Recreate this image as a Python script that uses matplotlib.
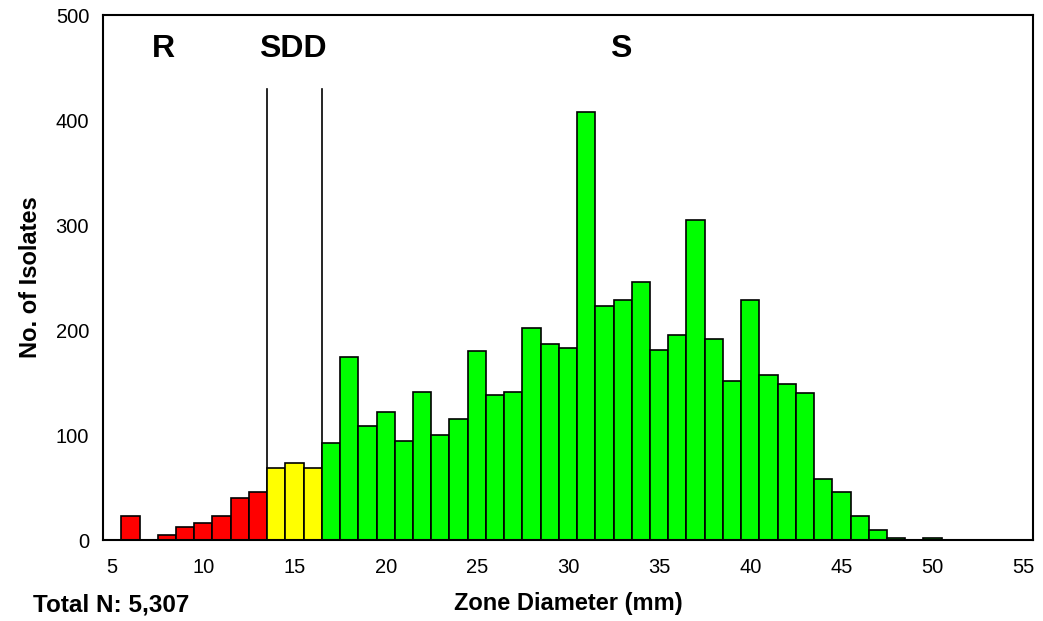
import matplotlib.pyplot as plt
import numpy as np

plt.rcParams['font.family'] = ['Liberation Sans', 'DejaVu Sans']

# 抑菌圈直径 (mm) 与菌株数
diameters = list(range(5, 56))
counts = [0, 23, 0, 5, 12, 16, 23, 40, 46,          # 5-13  R
          69, 73, 69,                               # 14-16 SDD
          92, 174, 109, 122, 94, 141, 100, 115, 180, 138,   # 17-26
          141, 202, 187, 183, 408, 223, 229, 246, 181, 195,  # 27-36
          305, 191, 151, 229, 157, 149, 140, 58, 46, 23,     # 37-46
          10, 2, 0, 2, 0, 0, 0, 0, 0]                        # 47-55

r_max = 13     # <=13 耐药
sdd_max = 16   # 14-16 剂量依赖敏感
breakpoints = [13.5, 16.5]
zone_labels = ['R', 'SDD', 'S']
zone_label_x = [7.8, 14.9, 32.9]

colors = []
for d in diameters:
    if d <= r_max:
        colors.append('#ff0000')
    elif d <= sdd_max:
        colors.append('#ffff00')
    else:
        colors.append('#00ff00')

fig = plt.figure(figsize=(10.43, 6.21), dpi=100)
ax = fig.add_axes([0.0988, 0.1304, 0.8915, 0.8454])

ax.bar(diameters, counts, width=1.0, color=colors, edgecolor='black', linewidth=1.2, zorder=2)

# 折点竖线
for bp in breakpoints:
    ax.plot([bp, bp], [0, 430], color='black', linewidth=1.2, zorder=1)

for lab, lx in zip(zone_labels, zone_label_x):
    ax.text(lx, 468, lab, ha='center', va='center', fontsize=23, fontweight='bold')

ax.set_xlim(4.5, 55.5)
ax.set_ylim(0, 500)
ax.set_xticks(range(5, 56, 5))
ax.set_yticks(range(0, 501, 100))
ax.tick_params(length=0, labelsize=14.5)
ax.tick_params(axis='x', pad=13)
ax.tick_params(axis='y', pad=10)
for s in ax.spines.values():
    s.set_linewidth(1.5)

ax.set_xlabel('Zone Diameter (mm)', fontsize=17, fontweight='bold', labelpad=11)
ax.set_ylabel('No. of Isolates', fontsize=17, fontweight='bold', labelpad=10)
fig.text(0.032, 0.025, 'Total N: 5,307', fontsize=17.5, fontweight='bold', va='center')

fig.savefig('out.png', dpi=100)
